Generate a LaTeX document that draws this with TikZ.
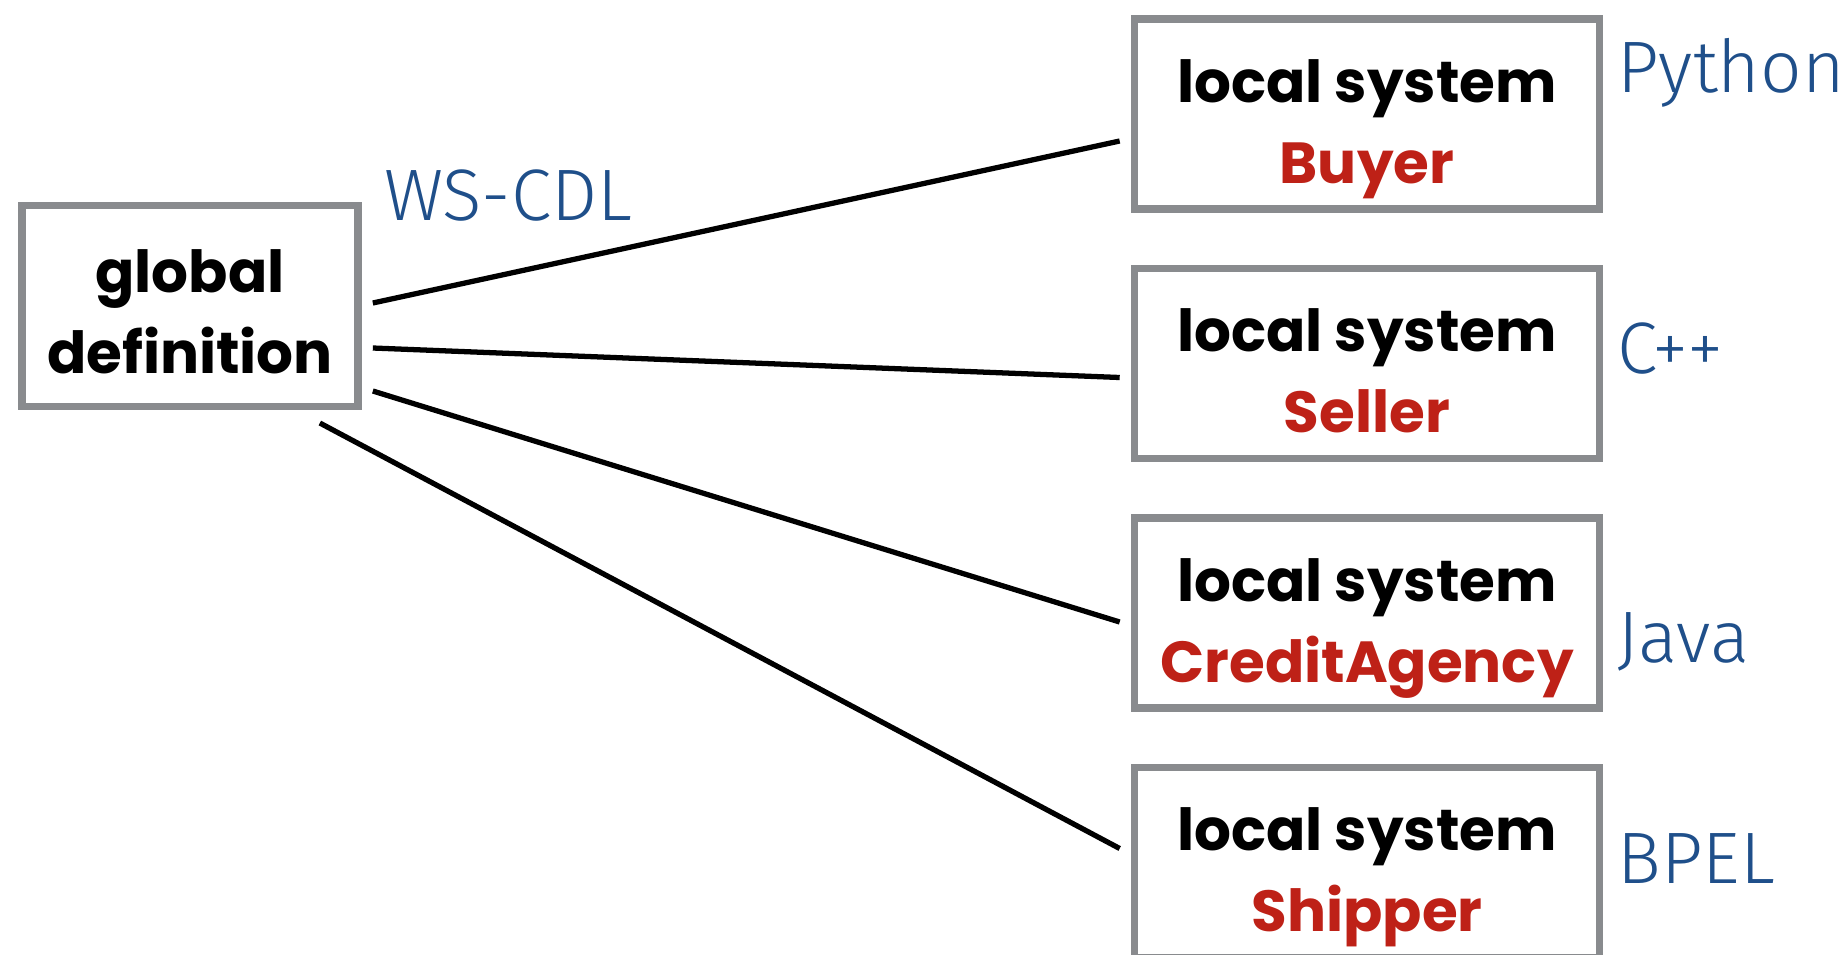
\documentclass[tikz,border=0pt]{standalone}
\usepackage{fontspec}
\setmainfont{Poppins}
\newfontfamily\langfont{Fira Sans Light}
\usetikzlibrary{calc}
\definecolor{framegray}{HTML}{898B8E}
\definecolor{rolered}{HTML}{BE2117}
\definecolor{langblue}{HTML}{1F4F8A}
\newcommand{\localw}{9.3cm}
\newcommand{\localh}{3.8cm}
\newcommand{\globalw}{6.72cm}
\newcommand{\globalh}{4.02cm}
\newcommand{\boxtext}{\bfseries\fontsize{33}{46}\selectfont}
\newcommand{\langtext}{\langfont\fontsize{41.5}{50}\selectfont}

\begin{document}
\begin{tikzpicture}[x=0.02cm, y=-0.02cm]
    \useasboundingbox (0,0) rectangle (1843,954);
    \node[rectangle, minimum width=\globalw, minimum height=\globalh, draw=framegray, line width=4.4pt] (global) at (190,306) {};
    \node[anchor=base, align=center, font=\boxtext] (global-text) at ($(global.north)+(0,172)$) {global\\definition};
    \node[anchor=base west, inner sep=0, font=\langtext, text=langblue] (wscdl) at (384,220) {WS-CDL};
    \foreach \n/\role/\lang/\i/\sx/\sy/\ey/\ly in {buyer/Buyer/Python/0/11/-3/27/-22, seller/Seller/C++/1/11/42/14/10, agency/CreditAgency/Java/2/11/85/9/49, shipper/Shipper/BPEL/3/-42/117/-14/21} {
        \node[rectangle, minimum width=\localw, minimum height=\localh, draw=framegray, line width=4.4pt] (\n) at (1367, 114+249.5*\i) {};
        \node[anchor=base, align=center, font=\boxtext] (\n-text) at ($(\n.north)+(0,168)$) {local system\\\textcolor{rolered}{\role}};
        \node[anchor=base west, inner sep=0, font=\langtext, text=langblue] (\n-lang) at ($(\n.east)+(14,\ly)$) {\lang};
        \coordinate (\n-from) at ($(global.east)+(\sx,\sy)$);
        \coordinate (\n-to) at ($(\n.west)+(-11,\ey)$);
        \draw[line width=3pt] (\n-from) -- (\n-to);
    }
\end{tikzpicture}
\end{document}
